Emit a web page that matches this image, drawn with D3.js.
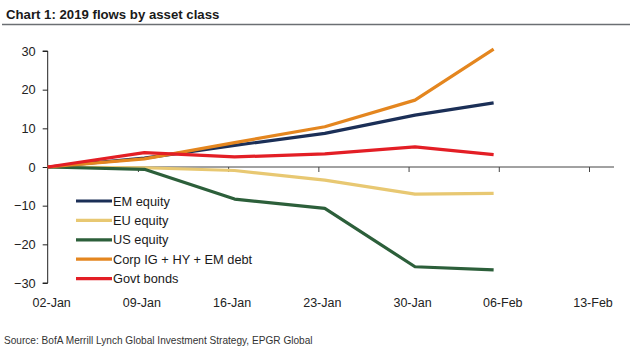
<!DOCTYPE html>
<html><head><meta charset="utf-8">
<script src="https://cdn.jsdelivr.net/npm/d3@7"></script>
<style>body{margin:0;background:#fff;}svg{display:block;font-family:"Liberation Sans",Arial,sans-serif;}</style>
</head><body><div id="chart"></div>
<script>
// days after 02-Jan at which each weekly point is plotted
const pointDays = [0, 7.5, 14.5, 21.5, 28.5, 34.6];
const emEquity = [0, 2.3, 5.6, 8.7, 13.4, 16.6];
const euEquity = [0, -0.2, -0.9, -3.4, -7.0, -6.8];
const usEquity = [0, -0.6, -8.3, -10.7, -25.8, -26.6];
const corpDebt = [0, 2.1, 6.3, 10.4, 17.3, 30.5];
const govtBonds = [0, 3.7, 2.6, 3.4, 5.2, 3.2];
const seriesNames = ["EM equity", "EU equity", "US equity", "Corp IG + HY + EM debt", "Govt bonds"];
const seriesColors = ["#1b2f57", "#e8c872", "#2c5f3a", "#e4861f", "#e31e25"];
const xTickLabels = ["02-Jan", "09-Jan", "16-Jan", "23-Jan", "30-Jan", "06-Feb", "13-Feb"];
const xTickDays = [0, 7, 14, 21, 28, 35, 42];
const yTicks = [30, 20, 10, 0, -10, -20, -30];

const W = 632, H = 362;
const svg = d3.select("#chart").append("svg").attr("width", W).attr("height", H);

const x = d3.scaleLinear().domain([0, 42]).range([47.7, 589]);
const y = d3.scaleLinear().domain([-30, 30]).range([283, 51]);

// title
svg.append("text").attr("x", 6).attr("y", 19).attr("font-size", 13.2).attr("font-weight", "bold")
  .attr("fill", "#1a1a1a").text("Chart 1: 2019 flows by asset class");
svg.append("line").attr("x1", 2).attr("x2", 630).attr("y1", 24.5).attr("y2", 24.5)
  .attr("stroke", "#6b6f73").attr("stroke-width", 1.5);

// y axis
const yAxis = d3.axisLeft(y).tickValues(yTicks).tickSize(5).tickPadding(7).tickFormat(d3.format("d"));
const gy = svg.append("g").attr("transform", `translate(${x(0)},0)`).call(yAxis);
gy.select(".domain").attr("stroke", "#222").attr("d", `M-5,${y(30)}H0V${y(-30)}H-5`);
gy.selectAll("line").attr("stroke", "#222");
gy.selectAll("text").attr("font-size", 12.8).attr("fill", "#222").attr("font-family", "Liberation Sans, Arial, sans-serif");

// x axis line at zero
const xAxis = d3.axisBottom(x).tickValues(xTickDays.slice(1)).tickSize(5).tickFormat("");
const gx = svg.append("g").attr("transform", `translate(0,${y(0)})`).call(xAxis);
gx.select(".domain").attr("stroke", "#444").attr("d", `M${x(0)},0H614`);
gx.selectAll("line").attr("stroke", "#444");

// x tick labels at bottom
svg.append("g").selectAll("text").data(xTickDays).join("text")
  .attr("x", (d) => x(d) + 4).attr("y", 307).attr("text-anchor", "middle")
  .attr("font-size", 12.5).attr("fill", "#222").text((d, i) => xTickLabels[i]);

// lines
const allSeries = [emEquity, euEquity, usEquity, corpDebt, govtBonds];
const line = d3.line().x((d, i) => x(pointDays[i])).y((d) => y(d));
const drawOrder = [1, 2, 0, 3, 4];
drawOrder.forEach((k) => {
  svg.append("path").attr("d", line(allSeries[k])).attr("fill", "none")
    .attr("stroke", seriesColors[k]).attr("stroke-width", 3.2).attr("stroke-linejoin", "round");
});

// legend
const lg = svg.append("g");
seriesNames.forEach((n, i) => {
  const ly = 201 + i * 19.4;
  lg.append("line").attr("x1", 76).attr("x2", 112).attr("y1", ly).attr("y2", ly)
    .attr("stroke", seriesColors[i]).attr("stroke-width", 3.2);
  lg.append("text").attr("x", 113).attr("y", ly + 4.5).attr("font-size", 12.8).attr("fill", "#1a1a1a").text(n);
});

// source
svg.append("text").attr("x", 4).attr("y", 344).attr("font-size", 10.1).attr("fill", "#333")
  .text("Source: BofA Merrill Lynch Global Investment Strategy, EPGR Global");
</script></body></html>
